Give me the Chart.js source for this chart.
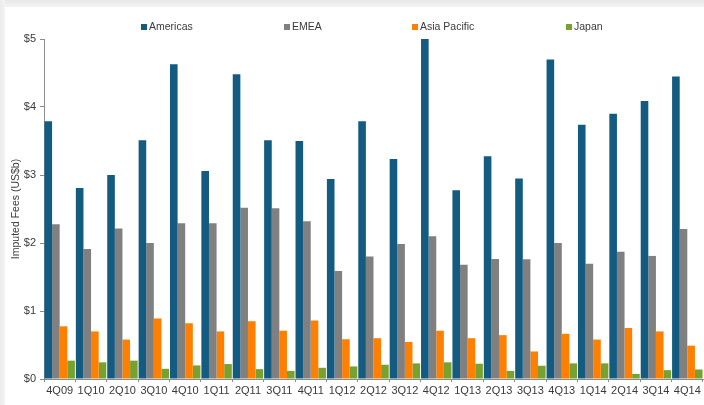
<!DOCTYPE html>
<html>
<head>
<meta charset="utf-8">
<script src="https://cdn.jsdelivr.net/npm/chart.js@4/dist/chart.umd.min.js"></script>
<style>
  html, body { margin: 0; padding: 0; }
  body {
    width: 704px; height: 405px; overflow: hidden; position: relative;
    background: #ffffff;
  }
  .frame-top {
    position: absolute; left: 0; top: 0; width: 704px; height: 7px;
    background: linear-gradient(#e9e9e9, #f3f3f3);
  }
  .frame-left {
    position: absolute; left: 0; top: 0; width: 5px; height: 405px;
    background: linear-gradient(90deg, #ececec, #f3f3f3);
  }
  #wrap { position: absolute; left: 0; top: 0; width: 704px; height: 405px; }
</style>
</head>
<body>
<div class="frame-top"></div>
<div class="frame-left"></div>
<div id="wrap"><canvas id="chart" width="704" height="405"></canvas></div>
<script>
// Quarterly imputed fees by region (US$ billions)
const quarters = ['4Q09', '1Q10', '2Q10', '3Q10', '4Q10', '1Q11', '2Q11', '3Q11', '4Q11', '1Q12', '2Q12',
                  '3Q12', '4Q12', '1Q13', '2Q13', '3Q13', '4Q13', '1Q14', '2Q14', '3Q14', '4Q14'];
const americas = [3.79, 2.81, 3.00, 3.51, 4.63, 3.06, 4.48, 3.51, 3.50, 2.94, 3.79,
                  3.235, 5.00, 2.775, 3.275, 2.95, 4.70, 3.74, 3.90, 4.09, 4.45];
const emea = [2.275, 1.91, 2.215, 2.00, 2.29, 2.29, 2.52, 2.51, 2.32, 1.59, 1.80,
              1.985, 2.10, 1.68, 1.765, 1.76, 2.00, 1.695, 1.87, 1.81, 2.205];
const asiaPacific = [0.775, 0.70, 0.58, 0.89, 0.82, 0.70, 0.85, 0.71, 0.86, 0.585, 0.60,
                     0.545, 0.71, 0.60, 0.645, 0.405, 0.665, 0.58, 0.75, 0.70, 0.49];
const japan = [0.27, 0.245, 0.27, 0.15, 0.20, 0.22, 0.145, 0.12, 0.165, 0.185, 0.21,
               0.23, 0.245, 0.225, 0.12, 0.195, 0.23, 0.23, 0.075, 0.13, 0.14];
const seriesNames = ['Americas', 'EMEA', 'Asia Pacific', 'Japan'];
const yTicks = [0, 1, 2, 3, 4, 5];

const FONT = 'Liberation Sans, Arial, sans-serif';
const TEXT = '#3a3a3a';
const AXIS = '#8c8c8c';

// Legend laid out in a single row above the plot
const rowLegend = {
  id: 'rowLegend',
  afterDraw(chart, args, opts) {
    const ctx = chart.ctx;
    ctx.save();
    ctx.font = '10.5px ' + FONT;
    ctx.textBaseline = 'middle';
    ctx.textAlign = 'left';
    chart.data.datasets.forEach((ds, i) => {
      const x = opts.x[i];
      ctx.fillStyle = ds.backgroundColor;
      ctx.fillRect(x, opts.y - 3, 6, 6);
      ctx.fillStyle = TEXT;
      ctx.fillText(ds.label, x + 8, opts.y);
    });
    ctx.restore();
  }
};

const colors = ['#135b81', '#808080', '#ff8000', '#78a22f'];
const values = [americas, emea, asiaPacific, japan];

new Chart(document.getElementById('chart'), {
  type: 'bar',
  data: {
    labels: quarters,
    datasets: seriesNames.map((name, i) => ({
      label: name,
      data: values[i],
      backgroundColor: colors[i],
      borderWidth: 0,
      categoryPercentage: 0.97,
      barPercentage: 1.0
    }))
  },
  plugins: [rowLegend],
  options: {
    responsive: false,
    animation: false,
    devicePixelRatio: 1,
    layout: { padding: { top: 39, right: 1, left: 0, bottom: 0 } },
    plugins: {
      legend: { display: false },
      tooltip: { enabled: false },
      rowLegend: { x: [141, 284, 412, 566], y: 27 }
    },
    scales: {
      x: {
        afterFit(scale) { scale.height = 26; },
        grid: { display: true, drawOnChartArea: false, drawTicks: true, tickLength: 3, color: AXIS, offset: true },
        border: { display: true, color: AXIS, width: 1 },
        ticks: { color: TEXT, font: { family: FONT, size: 11 }, padding: 2, maxRotation: 0, autoSkip: false }
      },
      y: {
        min: 0,
        max: 5,
        afterFit(scale) { scale.width = 44; },
        afterBuildTicks(scale) { scale.ticks = yTicks.map(v => ({ value: v })); },
        grid: { display: true, drawOnChartArea: false, drawTicks: true, tickLength: 4, color: AXIS },
        border: { display: true, color: AXIS, width: 1 },
        ticks: {
          color: TEXT,
          font: { family: FONT, size: 11 },
          padding: 4,
          callback: v => '$' + v
        },
        title: {
          display: true,
          text: 'Imputed Fees (US$b)',
          color: TEXT,
          font: { family: FONT, size: 10.5 },
          padding: { top: 10, bottom: 0 }
        }
      }
    }
  }
});
</script>
</body>
</html>
